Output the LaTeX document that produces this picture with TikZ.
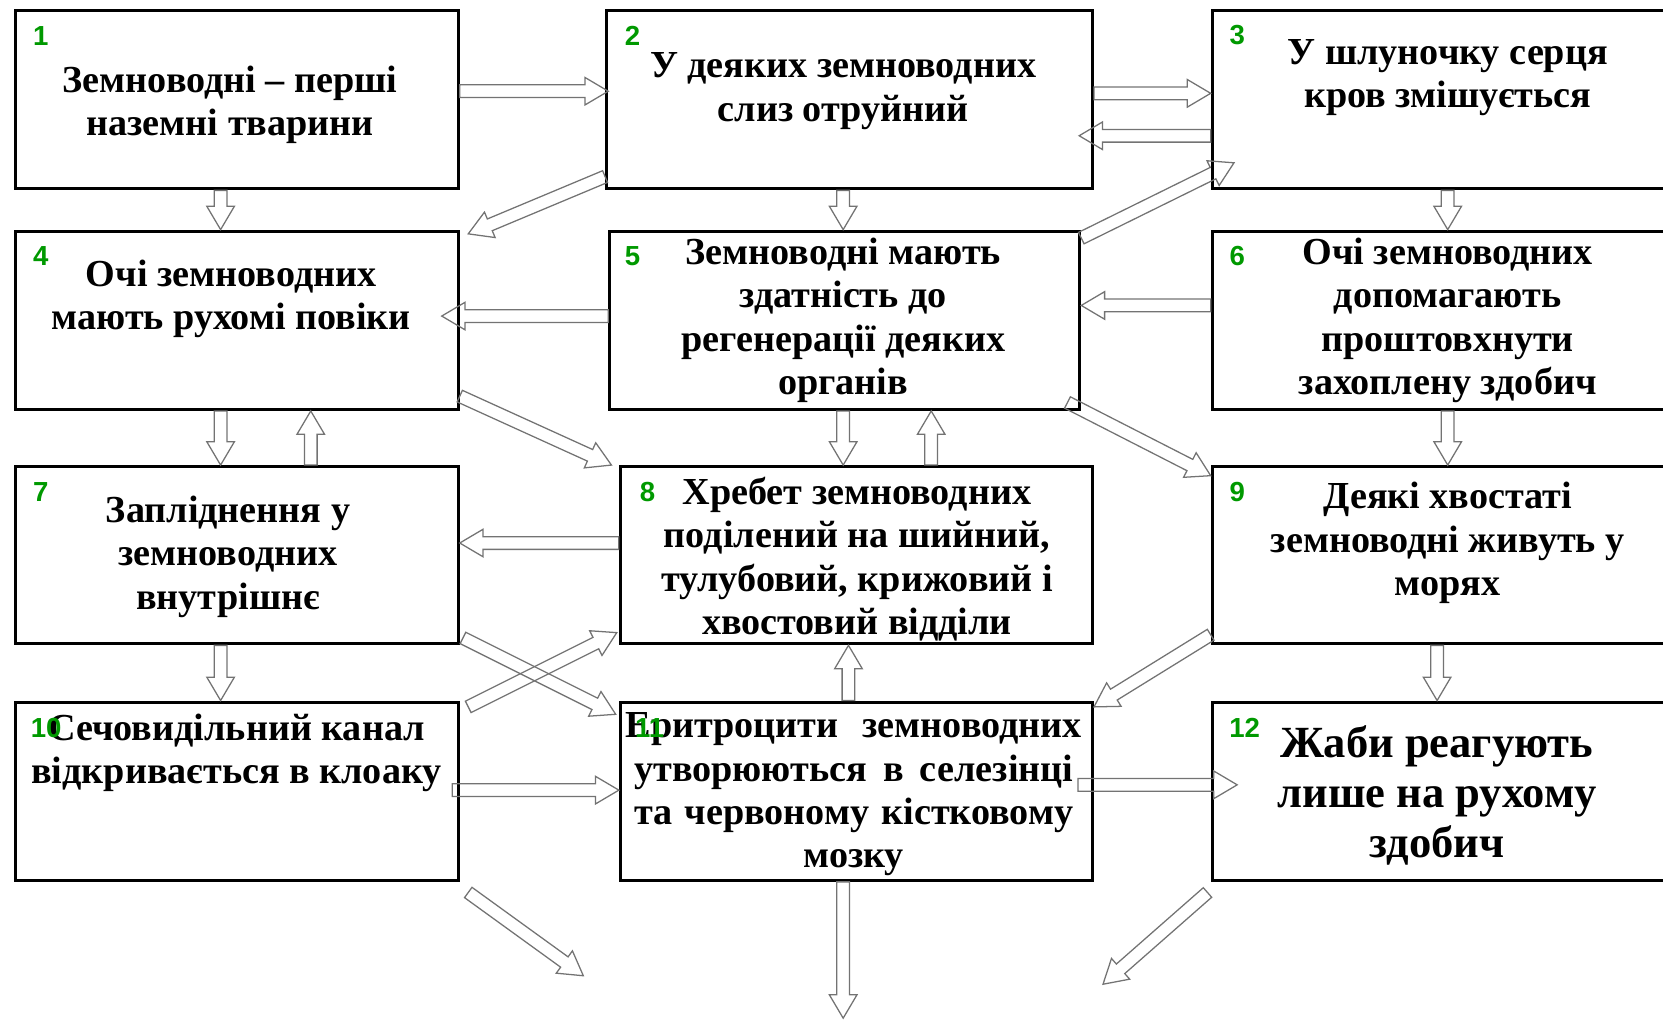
\documentclass[tikz,border=0pt]{standalone}
\usepackage{fontspec}
\setmainfont{Liberation Serif}
\newfontfamily\numfont{Liberation Sans}
\usetikzlibrary{calc,positioning}

\definecolor{numgreen}{RGB}{0,153,0}
\definecolor{arrowgray}{RGB}{115,115,115}

% hollow block arrow from #1 to #2
\newcommand\fatarrow[2]{%
  \draw[hollow] let \p1=($#2-#1$), \n1={atan2(\y1,\x1)}, \n2={veclen(\x1,\y1)} in
    ($#1+({\n1+90}:3pt)$) -- ($#1+(\n1:{\n2-11pt})+({\n1+90}:3pt)$)
    -- ($#1+(\n1:{\n2-11pt})+({\n1+90}:6.5pt)$) -- #2
    -- ($#1+(\n1:{\n2-11pt})+({\n1-90}:6.5pt)$)
    -- ($#1+(\n1:{\n2-11pt})+({\n1-90}:3pt)$)
    -- ($#1+({\n1-90}:3pt)$) -- cycle;}

\begin{document}
\begin{tikzpicture}[
    x=0.5pt, y=-0.5pt,
    box/.style={draw, line width=1.5pt, minimum height=84pt, inner sep=0pt},
    txt/.style={align=center, inner sep=0pt, font=\bfseries\fontsize{18pt}{20.5pt}\selectfont},
    num/.style={inner sep=0pt, text=numgreen, font=\numfont\bfseries\fontsize{13pt}{13pt}\selectfont},
    hollow/.style={draw=arrowgray, line width=0.6pt, line join=miter}
]
    \useasboundingbox (0,0) rectangle (1568,962);

    % row 1
    \node[box, minimum width=208.5pt] (b1) at (223.5,94) {};
    \node[box, minimum width=229pt] (b2) at (801,94) {};
    \node[box, minimum width=233.5pt] (b3) at (1376.5,94) {};
    \node[txt] (t1) at (217,99) {Земноводні – перші\\наземні тварини};
    \node[txt] (t2) at (795,86) {У деяких земноводних\\слиз отруйний};
    \node[txt] (t3) at (1365,73) {У шлуночку серця\\кров змішується};

    % row 2
    \node[box, minimum width=208.5pt] (b4) at (223.5,302) {};
    \node[box, minimum width=221.5pt] (b5) at (796.5,302) {};
    \node[box, minimum width=233.5pt] (b6) at (1376.5,302) {};
    \node[txt] (t4) at (218,282) {Очі земноводних\\мають рухомі повіки};
    \node[txt] (t5) at (795,302) {Земноводні мають\\здатність до\\регенерації деяких\\органів};
    \node[txt] (t6) at (1365,302) {Очі земноводних\\допомагають\\проштовхнути\\захоплену здобич};

    % row 3
    \node[box, minimum width=208.5pt, minimum height=83.5pt] (b7) at (223.5,523.5) {};
    \node[box, minimum width=222.5pt, minimum height=83.5pt] (b8) at (807.5,523.5) {};
    \node[box, minimum width=233.5pt, minimum height=83.5pt] (b9) at (1376.5,523.5) {};
    \node[txt] (t7) at (215,525) {Запліднення у\\земноводних\\внутрішнє};
    \node[txt] (t8) at (808,527) {Хребет земноводних\\поділений на шийний,\\тулубовий, крижовий і\\хвостовий відділи};
    \node[txt] (t9) at (1365,512) {Деякі хвостаті\\земноводні живуть у\\морях};

    % row 4
    \node[box, minimum width=208.5pt] (b10) at (223.5,746) {};
    \node[box, minimum width=222.5pt] (b11) at (807.5,746) {};
    \node[box, minimum width=233.5pt] (b12) at (1376.5,746) {};
    \node[txt] (t10) at (223,710) {Сечовидільний канал\\відкривається в клоаку};
    \node[txt] (t11) at (805,749) {\makebox[215pt][s]{Еритроцити земноводних}\\
        \makebox[207pt][s]{утворюються в селезінці}\\
        \makebox[207pt][s]{та червоному кістковому}\\мозку};
    \node[txt, font=\bfseries\fontsize{21pt}{23.5pt}\selectfont] (t12) at (1355,750) {Жаби реагують\\лише на рухому\\здобич};

    % numbers
    \node[num] (n1) at ([shift={(25,25)}]b1.north west) {1};
    \node[num] (n2) at ([shift={(26,25)}]b2.north west) {2};
    \node[num] (n3) at ([shift={(25,25)}]b3.north west) {3};
    \node[num] (n4) at ([shift={(25,25)}]b4.north west) {4};
    \node[num] (n5) at ([shift={(23,25)}]b5.north west) {5};
    \node[num] (n6) at ([shift={(25,25)}]b6.north west) {6};
    \node[num] (n7) at ([shift={(25,25)}]b7.north west) {7};
    \node[num] (n8) at ([shift={(27,25)}]b8.north west) {8};
    \node[num] (n9) at ([shift={(25,25)}]b9.north west) {9};
    \node[num] (n10) at ([shift={(30,26)}]b10.north west) {10};
    \node[num] (n11) at ([shift={(29,26)}]b11.north west) {11};
    \node[num] (n12) at ([shift={(32,26)}]b12.north west) {12};

    % free ends
    \coordinate (e1) at (550,920);
    \coordinate (e2) at (795,960);
    \coordinate (e3) at (1040,928);

    % arrows
    \fatarrow{([shift={(0,-8)}]b1.east)}{([shift={(3,-8)}]b2.west)}
    \fatarrow{([shift={(0,-6)}]b2.east)}{([shift={(0,-6)}]b3.west)}
    \fatarrow{([shift={(0,34)}]b3.west)}{([shift={(-14,34)}]b2.east)}
    \fatarrow{([shift={(0,-13)}]b2.south west)}{([shift={(8,4)}]b4.north east)}
    \fatarrow{([shift={(-15.5,0)}]b1.south)}{([shift={(-15.5,0)}]b4.north)}
    \fatarrow{([shift={(-6,0)}]b2.south)}{([shift={(-1.5,0)}]b5.north)}
    \fatarrow{([shift={(-11.5,0)}]b3.south)}{([shift={(-11.5,0)}]b6.north)}
    \fatarrow{([shift={(0,8)}]b5.north east)}{([shift={(22,-26)}]b3.south west)}
    \fatarrow{([shift={(0,-4)}]b5.west)}{([shift={(-17,-4)}]b4.east)}
    \fatarrow{([shift={(0,-14)}]b6.west)}{([shift={(0,-14)}]b5.east)}
    \fatarrow{([shift={(-15.5,0)}]b4.south)}{([shift={(-15.5,0)}]b7.north)}
    \fatarrow{([shift={(69.5,0)}]b7.north)}{([shift={(69.5,0)}]b4.south)}
    \fatarrow{([shift={(0,-14)}]b4.south east)}{([shift={(-7,0)}]b8.north west)}
    \fatarrow{([shift={(-1.5,0)}]b5.south)}{([shift={(-12.5,0)}]b8.north)}
    \fatarrow{([shift={(70.5,0)}]b8.north)}{([shift={(81.5,0)}]b5.south)}
    \fatarrow{([shift={(-13,-8)}]b5.south east)}{([shift={(0,10)}]b9.north west)}
    \fatarrow{([shift={(-11.5,0)}]b6.south)}{([shift={(-11.5,0)}]b9.north)}
    \fatarrow{([shift={(0,-11.5)}]b8.west)}{([shift={(0,-11.5)}]b7.east)}
    \fatarrow{([shift={(-15.5,0)}]b7.south)}{([shift={(-15.5,0)}]b10.north)}
    \fatarrow{([shift={(8,6)}]b10.north east)}{([shift={(-2,-12)}]b8.south west)}
    \fatarrow{([shift={(3,-7)}]b7.south east)}{([shift={(-3,13)}]b11.north west)}
    \fatarrow{([shift={(-7.5,0)}]b11.north)}{([shift={(-7.5,0)}]b8.south)}
    \fatarrow{([shift={(0,-10)}]b9.south west)}{([shift={(0,6)}]b11.north east)}
    \fatarrow{([shift={(-21.5,0)}]b9.south)}{([shift={(-21.5,0)}]b12.north)}
    \fatarrow{([shift={(-7,-1)}]b10.east)}{([shift={(0,-1)}]b11.west)}
    \fatarrow{([shift={(-15,-6)}]b11.east)}{([shift={(25,-6)}]b12.west)}
    \fatarrow{([shift={(8,10)}]b10.south east)}{(e1)}
    \fatarrow{([shift={(-12.5,0)}]b11.south)}{(e2)}
    \fatarrow{([shift={(-3,10)}]b12.south west)}{(e3)}

\end{tikzpicture}
\end{document}
